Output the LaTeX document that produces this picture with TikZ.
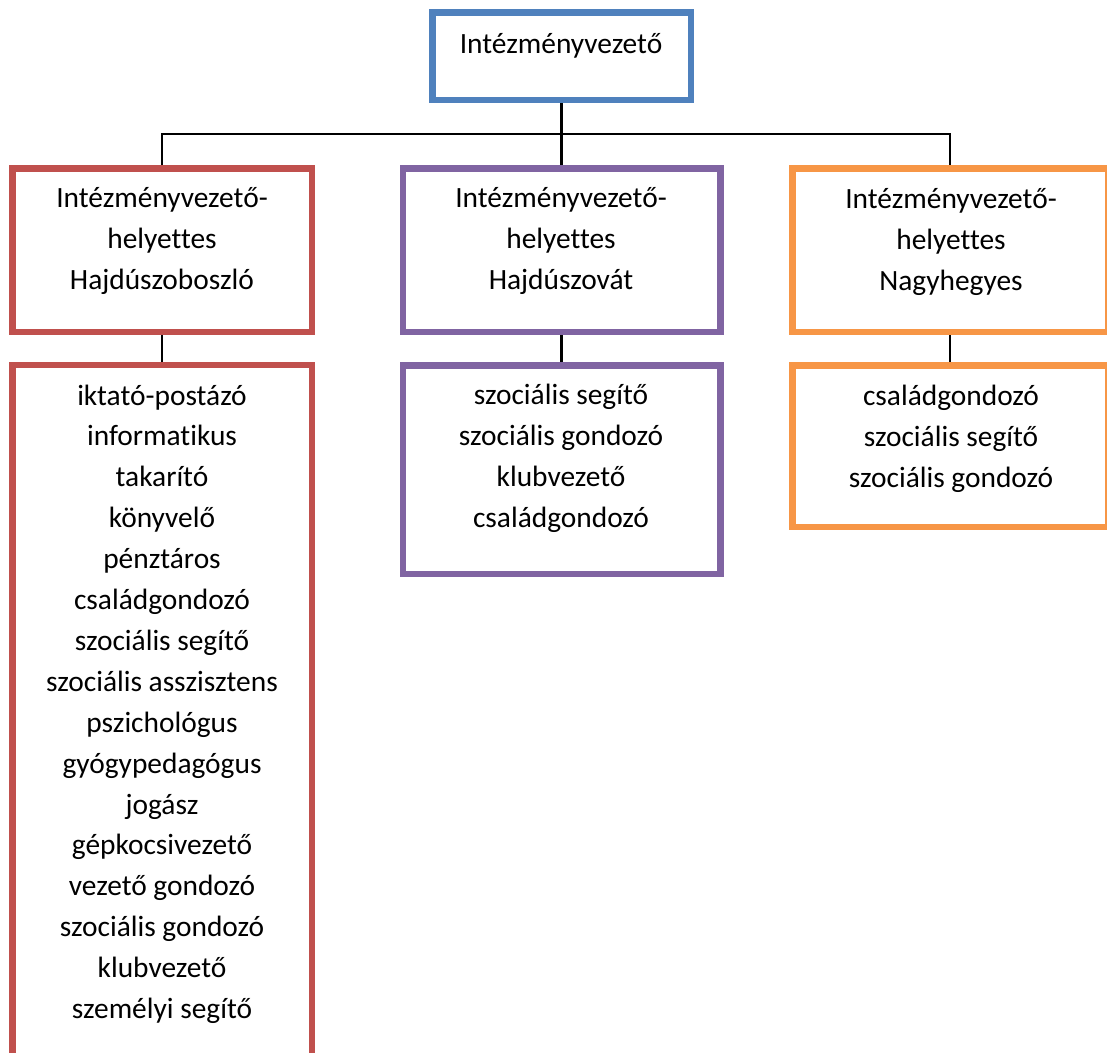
\documentclass[tikz,border=0pt]{standalone}
\usepackage{fontspec}
\setmainfont{Carlito}[Ligatures={NoCommon}]
\usetikzlibrary{positioning}
\definecolor{leadc}{HTML}{4F81BD}
\definecolor{szobc}{HTML}{C0504D}
\definecolor{vatc}{HTML}{8064A2}
\definecolor{hegyc}{HTML}{F79646}
\tikzset{
  unitbox/.style={draw, line width=6.5pt, fill=white, inner sep=0pt},
  leadbox/.style={unitbox, draw=leadc},
  szobbox/.style={unitbox, draw=szobc},
  vatbox/.style={unitbox, draw=vatc},
  hegybox/.style={unitbox, draw=hegyc},
  staff/.style={align=center, anchor=base, inner sep=0pt,
                font=\fontsize{29.4}{40.9}\selectfont},
  link/.style={draw=black, line width=2.4pt},
}
\begin{document}
\begin{tikzpicture}[x=1pt,y=-1pt]
\useasboundingbox (0,0) rectangle (1107,1052);
\clip (0,0) rectangle (1107,1052);
% boxes
\node[leadbox, minimum width=258.5pt, minimum height=87.5pt] (lead) at (561.5,56) {};
\node[szobbox, minimum width=299.5pt, minimum height=163.5pt] (depA) at (162,250) {};
\node[vatbox, minimum width=317.5pt, minimum height=163.5pt] (depB) at (561.5,250) {};
\node[hegybox, minimum width=316pt, minimum height=163.5pt] (depC) at (950.25,250) {};
\node[szobbox, minimum width=299.5pt, minimum height=704.75pt] (staffA) at (162,717.6) {};
\node[vatbox, minimum width=317.5pt, minimum height=208.5pt] (staffB) at (561.5,469.5) {};
\node[hegybox, minimum width=316pt, minimum height=161.5pt] (staffC) at (950.25,446) {};
% connectors
\coordinate (bus) at (561.5,134);
\draw[link] (lead.south) -- (bus);
\draw[link] (depA.north) |- (bus) -| (depC.north);
\draw[link] (bus) -- (depB.north);
\draw[link] (depA.south) -- (staffA.north);
\draw[link] (depB.south) -- (staffB.north);
\draw[link] (depC.south) -- (staffC.north);
% texts (anchored at the baseline of the last line)
\node[staff] (leadtxt) at (561,53) {Intézményvezető};
\node[staff] (depAtxt) at (162,289) {Intézményvezető-\\helyettes\\Hajdúszoboszló};
\node[staff] (depBtxt) at (561,289) {Intézményvezető-\\helyettes\\Hajdúszovát};
\node[staff] (depCtxt) at (951,290) {Intézményvezető-\\helyettes\\Nagyhegyes};
\node[staff] (staffAtxt) at (162,1018.5) {iktató-postázó\\informatikus\\takarító\\könyvelő\\pénztáros\\családgondozó\\szociális segítő\\szociális asszisztens\\pszichológus\\gyógypedagógus\\jogász\\gépkocsivezető\\vezető gondozó\\szociális gondozó\\klubvezető\\személyi segítő};
\node[staff] (staffBtxt) at (561,527.5) {szociális segítő\\szociális gondozó\\klubvezető\\családgondozó};
\node[staff] (staffCtxt) at (951,487) {családgondozó\\szociális segítő\\szociális gondozó};
\end{tikzpicture}
\end{document}
